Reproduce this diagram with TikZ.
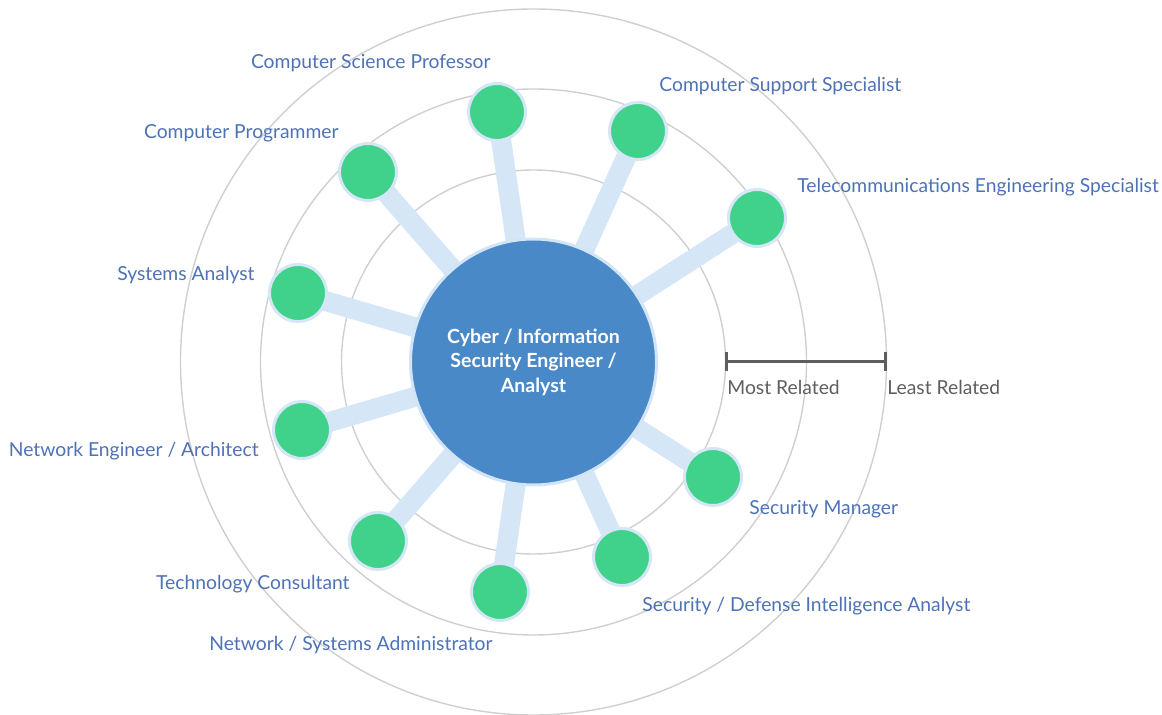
\documentclass[tikz,border=0pt]{standalone}
\usepackage{fontspec}
\setmainfont{Lato}
\usetikzlibrary{arrows.meta,backgrounds}

\definecolor{hubblue}{HTML}{4A89C8}
\definecolor{hubrim}{HTML}{D2E5F6}
\definecolor{jobgreen}{HTML}{40D18B}
\definecolor{spokeblue}{HTML}{D5E7F6}
\definecolor{ringgray}{HTML}{CFCFCF}
\definecolor{lblblue}{HTML}{4E72B6}
\definecolor{bargray}{HTML}{5E5E5E}

\tikzset{
	hub/.style={circle, fill=hubblue, draw=hubrim, line width=1.5pt, minimum size=123pt, inner sep=0pt, text=white, align=center, font=\bfseries\fontsize{9.75}{12.25}\selectfont},
	job/.style={circle, fill=jobgreen, draw=spokeblue, line width=1.5pt, minimum size=28.5pt, inner sep=0pt},
	spoke/.style={draw=spokeblue, line width=10pt},
	ring/.style={draw=ringgray, line width=0.7pt},
	lbl/.style={inner sep=0pt, text=lblblue, font=\fontsize{9.65}{12}\selectfont},
	rel/.style={inner sep=0pt, text=bargray, font=\fontsize{9.65}{12}\selectfont},
	scalebar/.style={draw=bargray, line width=1.5pt, {Bar[width=9.5pt]}-{Bar[width=9.5pt]}}
}

\begin{document}
\begin{tikzpicture}[x=0.5pt, y=-0.5pt]
	\useasboundingbox (0,0) rectangle (1162,715);

	\node[hub] (hub) at (533.5,362) {Cyber / Information\\Security Engineer /\\Analyst};

	% related careers
	\node[job] (j1) at (497,112) {};
	\node[job] (j2) at (638,131) {};
	\node[job] (j3) at (757,218) {};
	\node[job] (j4) at (368,172) {};
	\node[job] (j5) at (298,293) {};
	\node[job] (j6) at (302,430) {};
	\node[job] (j7) at (378,541) {};
	\node[job] (j8) at (500,592) {};
	\node[job] (j9) at (622,557) {};
	\node[job] (j10) at (713,477) {};

	\node[lbl, anchor=base east] (t1) at (491,69) {Computer Science Professor};
	\node[lbl, anchor=base west] (t2) at (659,92) {Computer Support Specialist};
	\node[lbl, anchor=base west] (t3) at (797,193) {Telecommunications Engineering Specialist};
	\node[lbl, anchor=base east] (t4) at (339,139) {Computer Programmer};
	\node[lbl, anchor=base east] (t5) at (255,281) {Systems Analyst};
	\node[lbl, anchor=base east] (t6) at (259,457) {Network Engineer / Architect};
	\node[lbl, anchor=base east] (t7) at (350,590) {Technology Consultant};
	\node[lbl, anchor=base east] (t8) at (493,651) {Network / Systems Administrator};
	\node[lbl, anchor=base west] (t9) at (642,612) {Security / Defense Intelligence Analyst};
	\node[lbl, anchor=base west] (t10) at (749,515) {Security Manager};

	% scale
	\coordinate (most) at (725,362);
	\coordinate (least) at (887,362);
	\draw[scalebar] (most) -- (least);
	\node[rel, anchor=base west] (mostlbl) at (727,395) {Most Related};
	\node[rel, anchor=base west] (leastlbl) at (887,395) {Least Related};

	\begin{pgfonlayer}{background}
		\foreach \r in {192,273,353}
			\draw[ring] (hub.center) circle (\r);
		\foreach \i in {1,...,10}
			\draw[spoke] (hub.center) -- (j\i.center);
	\end{pgfonlayer}
\end{tikzpicture}
\end{document}
